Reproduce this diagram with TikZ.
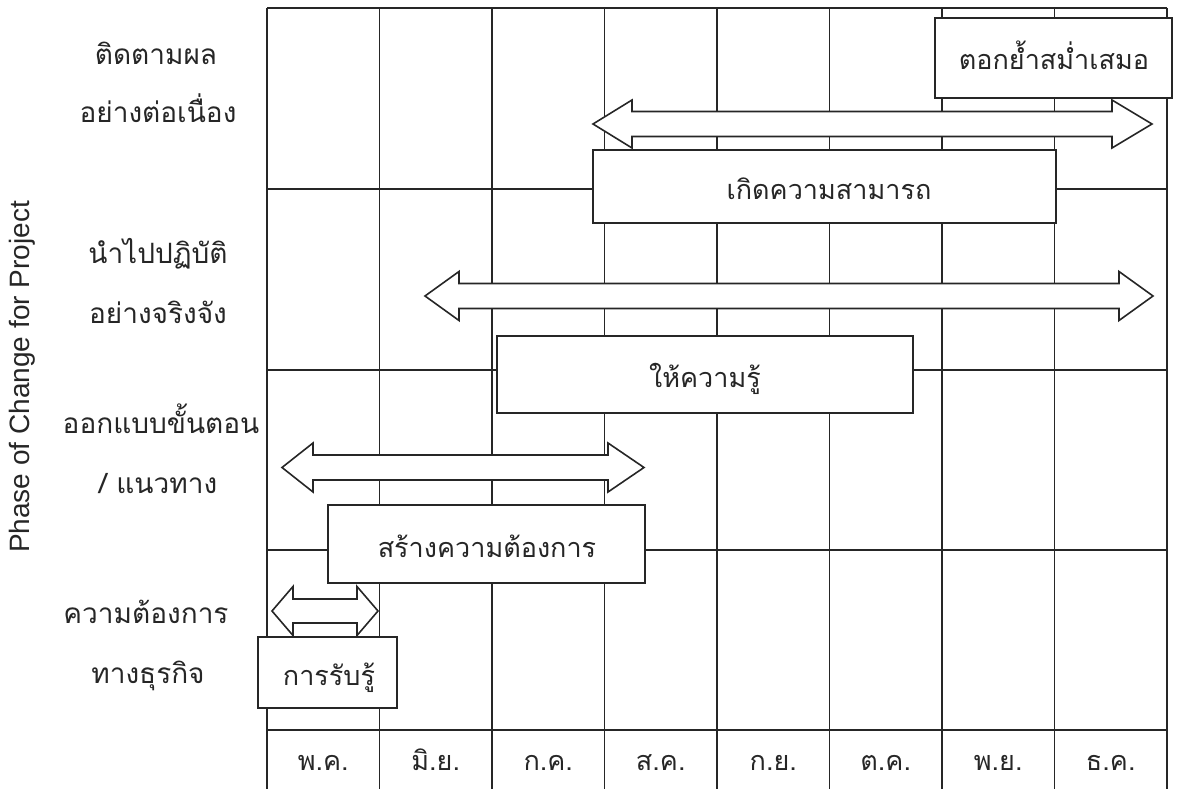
\documentclass[tikz,border=0pt]{standalone}
\usepackage{fontspec}
\setmainfont{Liberation Sans}
\newfontfamily\thaifont[Script=Thai]{Loma}
\definecolor{ink}{HTML}{262626}
\newcommand\dblarrowshape[7]{%
  \draw[arrowshape] (#1,#5) -- (#2,{#5-#7}) -- (#2,{#5-#6}) -- (#3,{#5-#6}) -- (#3,{#5-#7}) -- (#4,#5)
    -- (#3,{#5+#7}) -- (#3,{#5+#6}) -- (#2,{#5+#6}) -- (#2,{#5+#7}) -- cycle;}
\begin{document}
\begin{tikzpicture}[x=1pt,y=-1pt,
  gridline/.style={draw=ink, line width=1.4pt},
  boxnode/.style={draw=ink, fill=white, line width=1.6pt, inner sep=0pt, outer sep=0pt, anchor=north west},
  thaitext/.style={text=ink, font=\thaifont\fontsize{27}{32}\selectfont, inner sep=0pt, anchor=base},
  rowtext/.style={thaitext, font=\thaifont\fontsize{28}{32}\selectfont},
  arrowshape/.style={draw=ink, fill=white, line width=1.6pt, line join=miter}]
\useasboundingbox (0,0) rectangle (1179,789);
% grid
\foreach \i in {0,...,8} {\draw[gridline] ({267+112.5*\i},8) -- ({267+112.5*\i},789);}
\foreach \y in {8,189,370,550,730} {\draw[gridline] (267,\y) -- (1167,\y);}
% axis title
\node[rotate=90, text=ink, font=\fontsize{28}{32}\selectfont, inner sep=0pt] (ytitle) at (22,377) {Phase of Change for Project};
% row labels
\node[rowtext] (r1a) at (156,65) {ติดตามผล};
\node[rowtext] (r1b) at (158,123) {อย่างต่อเนื่อง};
\node[rowtext] (r2a) at (158,263) {นำไปปฏิบัติ};
\node[rowtext] (r2b) at (158,323) {อย่างจริงจัง};
\node[rowtext] (r3a) at (161,433) {ออกแบบขั้นตอน};
\node[rowtext] (r3b) at (158,493) {/ แนวทาง};
\node[rowtext] (r4a) at (146,623) {ความต้องการ};
\node[rowtext] (r4b) at (148,683) {ทางธุรกิจ};
% double arrows
\dblarrowshape{593}{632}{1112}{1152}{124}{12.5}{24}
\dblarrowshape{425}{459}{1119}{1153}{296}{12.5}{24.5}
\dblarrowshape{282}{313}{608}{644}{467.5}{12.5}{24.5}
\dblarrowshape{272}{293}{357}{378}{611}{12}{24.5}
% boxes
\node[boxnode, minimum width=237pt, minimum height=80pt] (b1) at (935,18) {};
\node[thaitext] (t1) at (1054,70) {ตอกย้ำสม่ำเสมอ};
\node[boxnode, minimum width=463pt, minimum height=73pt] (b2) at (593,150) {};
\node[thaitext] (t2) at (829,200) {เกิดความสามารถ};
\node[boxnode, minimum width=416pt, minimum height=77pt] (b3) at (497,336) {};
\node[thaitext] (t3) at (705,387) {ให้ความรู้};
\node[boxnode, minimum width=317pt, minimum height=78pt] (b4) at (328,505) {};
\node[thaitext] (t4) at (487,557) {สร้างความต้องการ};
\node[boxnode, minimum width=139pt, minimum height=71pt] (b5) at (258,637) {};
\node[thaitext] (t5) at (329,685) {การรับรู้};
% months
\foreach \m [count=\k from 0] in {พ.ค., มิ.ย., ก.ค., ส.ค., ก.ย., ต.ค., พ.ย., ธ.ค.} {
  \node[thaitext] (m\k) at ({267+112.5*(\k+0.5)},770) {\m};
}
\end{tikzpicture}
\end{document}
